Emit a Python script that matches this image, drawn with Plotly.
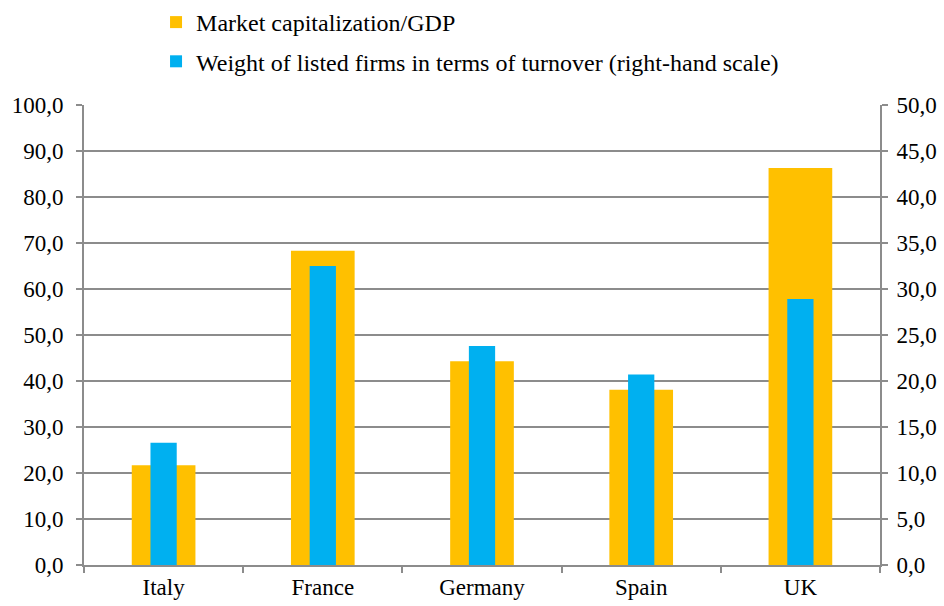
import plotly.graph_objects as go

# data
countries = ["Italy", "France", "Germany", "Spain", "UK"]
market_cap_gdp = [21.7, 68.3, 44.3, 38.1, 86.3]
listed_weight = [13.3, 32.5, 23.8, 20.7, 28.9]

yellow = "#FFC000"
blue = "#00B0F0"
grey = "#8C8C8C"
font_family = "Liberation Serif"

fig = go.Figure()

fig.add_trace(go.Bar(
    x=countries, y=market_cap_gdp,
    name="Market capitalization/GDP",
    marker=dict(color=yellow, line=dict(width=0)),
    width=0.40, yaxis="y", legendgroup="a",
))
fig.add_trace(go.Bar(
    x=countries, y=listed_weight,
    name="Weight of listed firms in terms of turnover (right-hand scale)",
    marker=dict(color=blue, line=dict(width=0)),
    width=0.165, yaxis="y2", legendgroup="b",
))

axis_font = dict(family=font_family, size=23, color="black")

fig.update_layout(
    width=944, height=606,
    margin=dict(l=84, r=64, t=105, b=41, autoexpand=False),
    paper_bgcolor="white", plot_bgcolor="white",
    separators=",.",
    font=dict(family=font_family, size=23, color="black"),
    showlegend=True,
    legend=dict(
        x=0.0905, y=1.0, yref="container", xanchor="left", yanchor="top",
        orientation="v", traceorder="grouped", tracegroupgap=5,
        font=dict(family=font_family, size=24, color="black"),
        bgcolor="rgba(0,0,0,0)",
    ),
    xaxis=dict(
        type="category", tickson="boundaries",
        ticks="outside", ticklen=6, tickcolor=grey, tickwidth=2,
        showline=True, linecolor=grey, linewidth=2,
        showgrid=False, tickfont=axis_font, automargin=False,
    ),
    yaxis=dict(
        range=[0, 100], dtick=10, tickformat=".1f",
        ticks="outside", ticklen=6, tickcolor=grey, tickwidth=2,
        ticklabelstandoff=8,
        showline=True, linecolor=grey, linewidth=2,
        showgrid=True, gridcolor=grey, gridwidth=1.5,
        zeroline=False, tickfont=axis_font, automargin=False,
    ),
    yaxis2=dict(
        range=[0, 50], dtick=5, tickformat=".1f",
        overlaying="y", side="right",
        ticks="outside", ticklen=6, tickcolor=grey, tickwidth=2,
        ticklabelstandoff=4,
        showline=True, linecolor=grey, linewidth=2,
        showgrid=False, zeroline=False, tickfont=axis_font, automargin=False,
    ),
)

# drop the browser's default body margin so the figure sits at the page corner
fig.write_html("out.html", config={"displayModeBar": False},
               post_script="document.body.style.margin='0';")
